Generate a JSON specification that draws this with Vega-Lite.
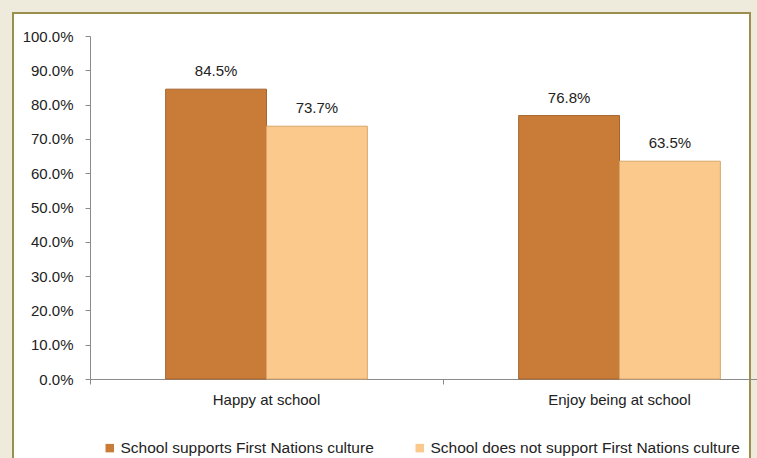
{
  "$schema": "https://vega.github.io/schema/vega-lite/v6.json",
  "width": 737,
  "height": 447,
  "autosize": {"type": "none"},
  "padding": {"left": 13, "top": 13, "right": 7, "bottom": -2},
  "background": "#EFEBDC",
  "config": {
    "view": {"stroke": "#9C8F4E", "strokeWidth": 2, "fill": "#FFFFFF"},
    "font": "Liberation Sans"
  },
  "data": {
    "values": [
      {"category": "Happy at school", "group": "School supports First Nations culture", "value": 0.845},
      {"category": "Happy at school", "group": "School does not support First Nations culture", "value": 0.737},
      {"category": "Enjoy being at school", "group": "School supports First Nations culture", "value": 0.768},
      {"category": "Enjoy being at school", "group": "School does not support First Nations culture", "value": 0.635}
    ]
  },
  "encoding": {
    "x": {
      "field": "category",
      "type": "nominal",
      "sort": ["Happy at school", "Enjoy being at school"],
      "scale": {"range": [77, 783], "paddingInner": 0, "paddingOuter": 0},
      "axis": {
        "title": null,
        "orient": "bottom",
        "offset": -81,
        "labelAngle": 0,
        "bandPosition": 0,
        "domainColor": "#8a8a8a",
        "tickColor": "#8a8a8a",
        "tickSize": 5,
        "labelFontSize": 15,
        "labelColor": "#222222",
        "labelPadding": 8
      }
    },
    "xOffset": {
      "field": "group",
      "type": "nominal",
      "sort": ["School supports First Nations culture", "School does not support First Nations culture"],
      "scale": {"paddingOuter": 0.75, "paddingInner": 0}
    },
    "y": {
      "field": "value",
      "type": "quantitative",
      "scale": {"domain": [0, 1], "range": [366, 23], "nice": false},
      "axis": {
        "title": null,
        "offset": -77,
        "values": [0, 0.1, 0.2, 0.3, 0.4, 0.5, 0.6, 0.7, 0.8, 0.9, 1],
        "format": ".1%",
        "grid": false,
        "domainColor": "#8a8a8a",
        "tickColor": "#8a8a8a",
        "tickSize": 5,
        "labelPadding": 12,
        "labelFontSize": 15,
        "labelColor": "#222222"
      }
    }
  },
  "layer": [
    {
      "mark": {"type": "bar", "strokeWidth": 1},
      "encoding": {
        "color": {
          "field": "group",
          "type": "nominal",
          "sort": ["School supports First Nations culture", "School does not support First Nations culture"],
          "scale": {"range": ["#C97C37", "#FBC98C"]},
          "legend": {
            "orient": "none",
            "legendX": 89,
            "legendY": 427,
            "direction": "horizontal",
            "title": null,
            "symbolType": "square",
            "symbolSize": 72,
            "symbolStrokeWidth": 0,
            "labelFontSize": 15.5,
            "labelColor": "#222222",
            "labelOffset": 3,
            "labelLimit": 0,
            "columnPadding": 38
          }
        },
        "stroke": {
          "field": "group",
          "type": "nominal",
          "sort": ["School supports First Nations culture", "School does not support First Nations culture"],
          "scale": {"range": ["#A5652C", "#D8A66A"]},
          "legend": null
        }
      }
    },
    {
      "mark": {"type": "text", "dy": -13, "baseline": "alphabetic", "align": "center", "fontSize": 15, "color": "#222222"},
      "encoding": {
        "text": {"field": "value", "type": "quantitative", "format": ".1%"}
      }
    }
  ]
}
